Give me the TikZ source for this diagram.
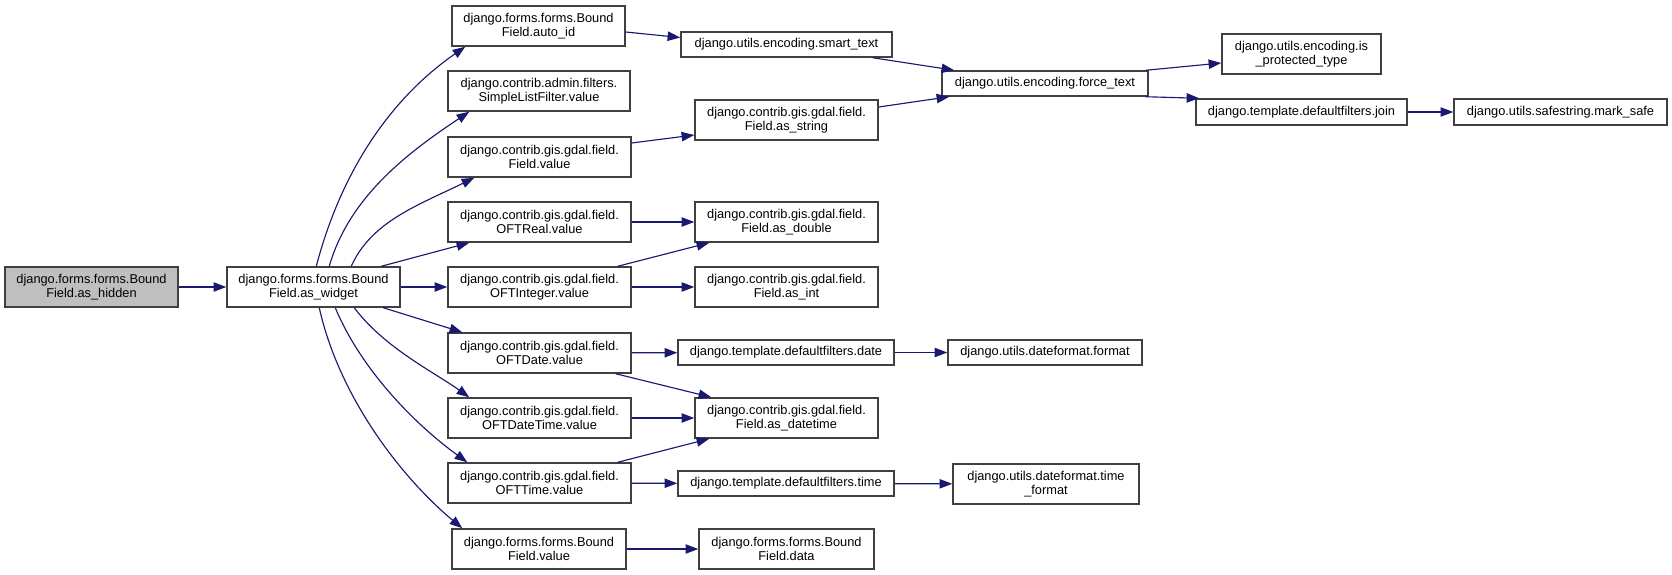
\documentclass[tikz,border=0pt]{standalone}
\usepackage{fontspec}
\setmainfont{Liberation Sans}
\usetikzlibrary{arrows.meta,calc}

\definecolor{edgeblue}{HTML}{191970}
\definecolor{boxline}{HTML}{404040}
\definecolor{rootfill}{HTML}{BFBFBF}

\tikzset{
  fn/.style={draw=boxline, line width=1.1pt, fill=white, rectangle,
    inner sep=0pt, align=center, text=black,
    font=\fontsize{9.6}{10.5}\selectfont},
  root/.style={fill=rootfill},
  link/.style={draw=edgeblue, line width=0.85pt,
    -{Triangle[length=9.5pt,width=7pt]}},
}

% box: [extra style]{name}{x1}{y1}{x2}{y2}{label}, corners in pixels
\newcommand\fnbox[7][]{%
  \node[fn,#1,minimum width={(#5-#3)*0.75pt},minimum height={(#6-#4)*0.75pt}]
    (#2) at ({(#3+#5)/2},{(#4+#6)/2}) {#7};}

\begin{document}
\begin{tikzpicture}[x=0.75pt,y=-0.75pt]
\fill[white] (0,0) rectangle (1672,575);
\useasboundingbox (0,0) rectangle (1672,575);

% call graph nodes
\fnbox[root]{hidden}{5}{267}{178}{307}{django.forms.forms.Bound\\Field.as\_hidden}
\fnbox{widget}{227}{267}{400}{307}{django.forms.forms.Bound\\Field.as\_widget}

\fnbox{autoid}{452}{6}{625}{46}{django.forms.forms.Bound\\Field.auto\_id}
\fnbox{slf}{448}{71}{630}{111}{django.contrib.admin.filters.\\SimpleListFilter.value}
\fnbox{fval}{448}{137}{631}{177}{django.contrib.gis.gdal.field.\\Field.value}
\fnbox{real}{448}{202}{631}{242}{django.contrib.gis.gdal.field.\\OFTReal.value}
\fnbox{int}{448}{267}{631}{307}{django.contrib.gis.gdal.field.\\OFTInteger.value}
\fnbox{date}{448}{333}{631}{373}{django.contrib.gis.gdal.field.\\OFTDate.value}
\fnbox{dt}{448}{398}{631}{438}{django.contrib.gis.gdal.field.\\OFTDateTime.value}
\fnbox{time}{448}{463}{631}{503}{django.contrib.gis.gdal.field.\\OFTTime.value}
\fnbox{bval}{452}{529}{626}{569}{django.forms.forms.Bound\\Field.value}

\fnbox{smart}{681}{32}{892}{57}{django.utils.encoding.smart\_text}
\fnbox{asstr}{695}{100}{878}{140}{django.contrib.gis.gdal.field.\\Field.as\_string}
\fnbox{double}{695}{202}{878}{242}{django.contrib.gis.gdal.field.\\Field.as\_double}
\fnbox{asint}{695}{267}{878}{307}{django.contrib.gis.gdal.field.\\Field.as\_int}
\fnbox{tdate}{678}{340}{894}{365}{django.template.defaultfilters.date}
\fnbox{asdt}{695}{398}{878}{438}{django.contrib.gis.gdal.field.\\Field.as\_datetime}
\fnbox{ttime}{678}{471}{894}{496}{django.template.defaultfilters.time}
\fnbox{data}{699}{529}{874}{569}{django.forms.forms.Bound\\Field.data}

\fnbox{force}{942}{71}{1148}{96}{django.utils.encoding.force\_text}
\fnbox{fmt}{948}{340}{1142}{365}{django.utils.dateformat.format}
\fnbox{tfmt}{953}{464}{1139}{504}{django.utils.dateformat.time\\\_format}

\fnbox{isprot}{1222}{34}{1381}{74}{django.utils.encoding.is\\\_protected\_type}
\fnbox{join}{1196}{99}{1407}{125}{django.template.defaultfilters.join}
\fnbox{mark}{1454}{99}{1667}{125}{django.utils.safestring.mark\_safe}

% calls
\draw[link] (hidden) -- (widget);

\draw[link] ($(widget.north west)+(90,0)$) .. controls +(25,-95) and +(-75,52) .. ($(autoid.south west)+(14,0)$);
\draw[link] ($(widget.north west)+(103,0)$) .. controls +(20,-70) and +(-60,40) .. ($(slf.south west)+(22,0)$);
\draw[link] ($(widget.north west)+(125,0)$) .. controls +(20,-45) and +(-55,27) .. ($(fval.south west)+(27,0)$);
\draw[link] ($(widget.north west)+(155,0)$) -- ($(real.south west)+(22,0)$);
\draw[link] (widget) -- (int);
\draw[link] ($(widget.south west)+(157,0)$) -- ($(date.north west)+(15,0)$);
\draw[link] ($(widget.south west)+(128,0)$) .. controls +(30,40) and +(-35,-25) .. ($(dt.north west)+(22,0)$);
\draw[link] ($(widget.south west)+(109,0)$) .. controls +(25,60) and +(-55,-40) .. ($(time.north west)+(20,0)$);
\draw[link] ($(widget.south west)+(93,0)$) .. controls +(20,90) and +(-60,-50) .. ($(bval.north west)+(11,0)$);

\draw[link] ($(autoid.east)+(0,6)$) -- ($(smart.west)+(0,-7)$);
\draw[link] ($(smart.south east)+(-20,0)$) -- ($(force.north west)+(13,0)$);
\draw[link] ($(fval.east)+(0,-14)$) -- ($(asstr.west)+(0,15)$);
\draw[link] ($(asstr.east)+(0,-13)$) -- ($(force.south west)+(8,0)$);
\draw[link] ($(force.north east)+(-3,0)$) -- ($(isprot.west)+(0,9)$);
\draw[link] ($(force.south east)+(-3,0)$) -- ($(join.north west)+(4,0)$);
\draw[link] (join) -- (mark);

\draw[link] (real) -- (double);
\draw[link] ($(int.north east)+(-14,0)$) -- ($(double.south west)+(15,0)$);
\draw[link] (int) -- (asint);
\draw[link] (date) -- (tdate);
\draw[link] ($(date.south east)+(-16,0)$) -- ($(asdt.north west)+(17,0)$);
\draw[link] (dt) -- (asdt);
\draw[link] ($(time.north east)+(-14,0)$) -- ($(asdt.south west)+(15,0)$);
\draw[link] (time) -- (ttime);
\draw[link] (tdate) -- (fmt);
\draw[link] (ttime) -- (tfmt);
\draw[link] (bval) -- (data);
\end{tikzpicture}
\end{document}
